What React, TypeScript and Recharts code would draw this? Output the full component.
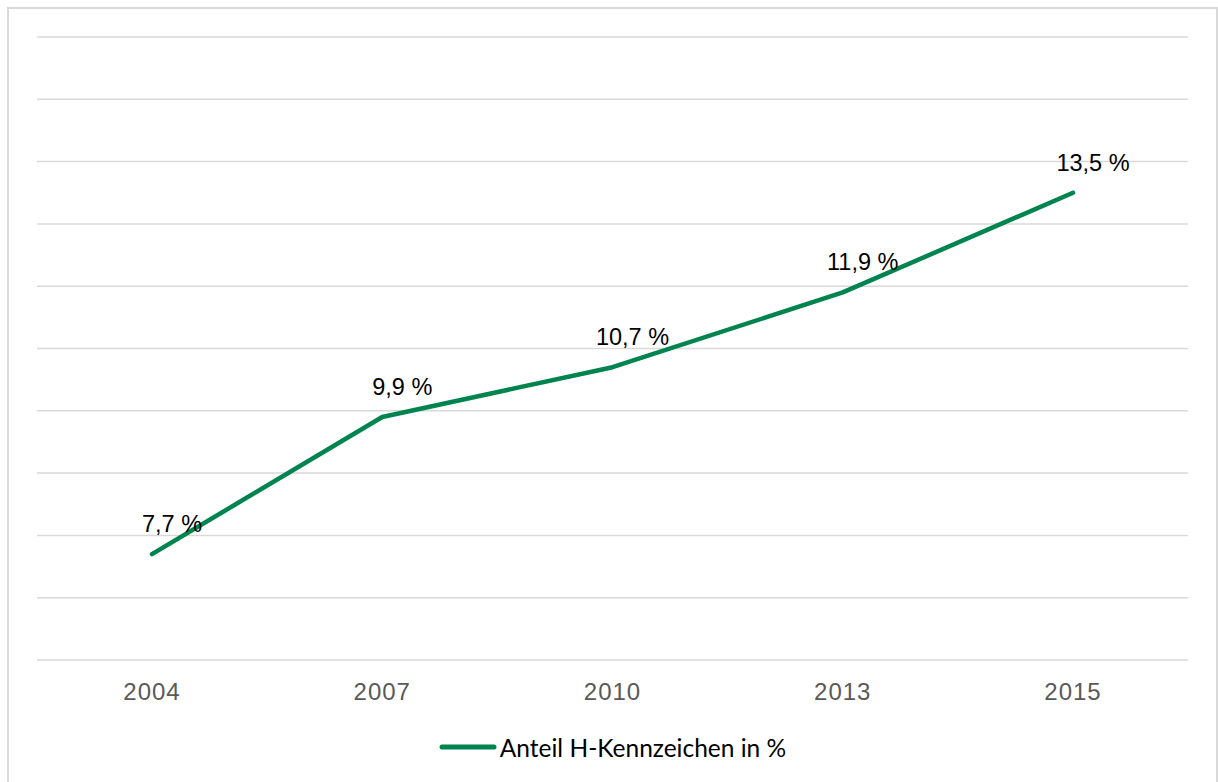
import React from "react";
import { LineChart, Line, XAxis, YAxis, CartesianGrid, Legend, LabelList } from "recharts";

const years = ["2004", "2007", "2010", "2013", "2015"];
const shares = [7.7, 9.9, 10.7, 11.9, 13.5];
const yTicks = [6, 7, 8, 9, 10, 11, 12, 13, 14, 15, 16];
const seriesName = "Anteil H-Kennzeichen in %";

const data = years.map((year, i) => ({ year, share: shares[i] }));

const GREEN = "#00844f";
const GRID = "#d9d9d9";

const fmt = (v: number) => `${v.toFixed(1).replace(".", ",")} %`;

// labels sit a bit above and right of each point, like the Excel original
const ValueLabel = (props: any) => {
  const { x, y, value } = props;
  return (
    <text
      x={x + 20}
      y={y - 22}
      textAnchor="middle"
      fill="#000"
      fontSize={23.5}
      fontFamily="'Liberation Sans', Arial, sans-serif"
    >
      {fmt(value)}
    </text>
  );
};

const LegendContent = () => (
  <div
    style={{
      height: 30,
      display: "flex",
      alignItems: "center",
      justifyContent: "center",
      fontFamily: "Lato, 'Noto Sans', sans-serif",
      fontSize: 24.5,
      color: "#000",
    }}
  >
    <svg width={58} height={10} style={{ marginRight: 3 }}>
      <line x1={3} y1={5} x2={55} y2={5} stroke={GREEN} strokeWidth={5} strokeLinecap="round" />
    </svg>
    <span>{seriesName}</span>
  </div>
);

export default function App() {
  return (
    <div style={{ position: "absolute", left: 0, top: 0, width: 1218, height: 782, background: "#fff", overflow: "hidden" }}>
      <div
        style={{
          position: "absolute",
          left: 7,
          top: 7,
          width: 1207,
          height: 790,
          border: `2px solid ${GRID}`,
        }}
      />
      <LineChart
        width={1218}
        height={782}
        data={data}
        margin={{ top: 37, right: 30, left: 37, bottom: 20 }}
        style={{ position: "absolute", left: 0, top: 0 }}
      >
        <CartesianGrid vertical={false} stroke={GRID} strokeWidth={1.5} />
        <XAxis
          dataKey="year"
          axisLine={false}
          tickLine={false}
          tickSize={0}
          tickMargin={23}
          height={72}
          padding={{ left: 115, right: 115 }}
          interval={0}
          tick={{ fill: "#595959", fontSize: 24, fontFamily: "'Liberation Sans', Arial, sans-serif", letterSpacing: 1 }}
        />
        <YAxis hide domain={[6, 16]} ticks={yTicks} />
        <Legend verticalAlign="bottom" content={<LegendContent />} />
        <Line
          type="linear"
          dataKey="share"
          name={seriesName}
          stroke={GREEN}
          strokeWidth={4.5}
          strokeLinecap="round"
          strokeLinejoin="round"
          dot={false}
          activeDot={false}
          isAnimationActive={false}
        >
          <LabelList dataKey="share" content={<ValueLabel />} />
        </Line>
      </LineChart>
    </div>
  );
}
